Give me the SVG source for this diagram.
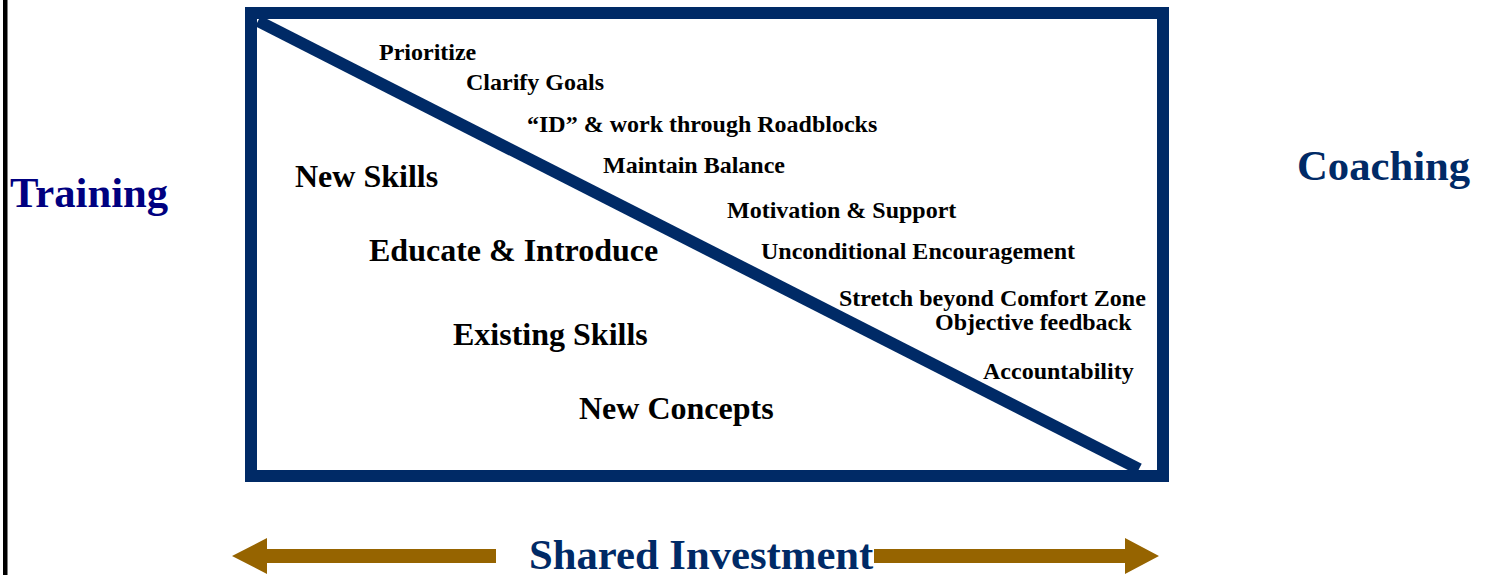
<svg xmlns="http://www.w3.org/2000/svg" width="1486" height="575" viewBox="0 0 1486 575">
  <style>
    text { font-family: "Liberation Serif", "Times New Roman", serif; font-weight: bold; }
    .sm { font-size: 24px; fill: #000000; }
    .md { font-size: 32px; fill: #000000; }
    .lg { font-size: 42.7px; }
    .navy { fill: #002A66; }
    .arrow { fill: #966400; }
  </style>
  <rect x="0" y="0" width="1486" height="575" fill="#ffffff"/>
  <rect id="left-rule" x="3" y="0" width="4.5" height="575" fill="#000000"/>

  <g id="frame">
    <line x1="258" y1="21" x2="1139" y2="469" stroke="#002A66" stroke-width="12"/>
    <rect x="251" y="13" width="912" height="463" fill="none" stroke="#002A66" stroke-width="12"/>
  </g>

  <g id="training-label">
    <text class="lg" x="10" y="207" fill="#000080">Training</text>
  </g>
  <g id="coaching-label">
    <text class="lg navy" x="1297" y="180">Coaching</text>
  </g>

  <g id="coaching-items">
    <text class="sm" x="379" y="60">Prioritize</text>
    <text class="sm" x="466" y="90">Clarify Goals</text>
    <text class="sm" x="527" y="132">“ID” &amp; work through Roadblocks</text>
    <text class="sm" x="603" y="173">Maintain Balance</text>
    <text class="sm" x="727" y="218">Motivation &amp; Support</text>
    <text class="sm" x="761" y="259">Unconditional Encouragement</text>
    <text class="sm" x="839" y="306">Stretch beyond Comfort Zone</text>
    <text class="sm" x="935" y="330">Objective feedback</text>
    <text class="sm" x="983" y="379">Accountability</text>
  </g>

  <g id="training-items">
    <text class="md" x="295" y="187">New Skills</text>
    <text class="md" x="369" y="261">Educate &amp; Introduce</text>
    <text class="md" x="453" y="345">Existing Skills</text>
    <text class="md" x="579" y="419">New Concepts</text>
  </g>

  <g id="connectors">
    <polygon class="arrow" points="232,556 267,538 267,549 496,549 496,563 267,563 267,574"/>
    <polygon class="arrow" points="1159,556 1125,538 1125,549 874,549 874,563 1125,563 1125,574"/>
  </g>

  <g id="shared-investment">
    <text class="lg navy" x="529" y="569">Shared Investment</text>
  </g>
</svg>
